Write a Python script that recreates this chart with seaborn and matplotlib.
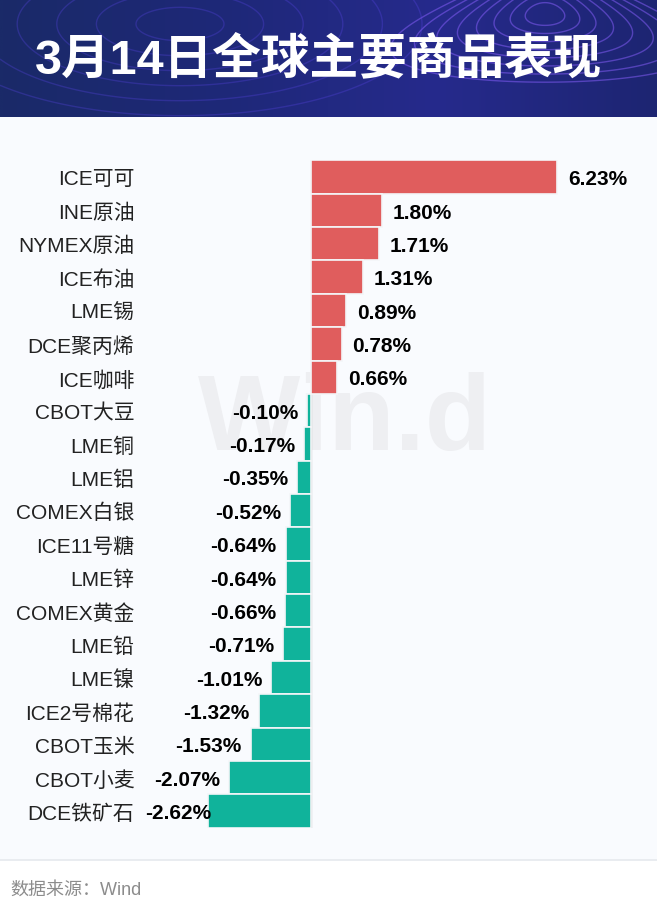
import numpy as np
import pandas as pd
import seaborn as sns
import matplotlib.pyplot as plt
from matplotlib.colors import LinearSegmentedColormap
from matplotlib.patches import Rectangle

# 数据
commodities = ['ICE可可', 'INE原油', 'NYMEX原油', 'ICE布油', 'LME锡', 'DCE聚丙烯', 'ICE咖啡',
               'CBOT大豆', 'LME铜', 'LME铝', 'COMEX白银', 'ICE11号糖', 'LME锌', 'COMEX黄金',
               'LME铅', 'LME镍', 'ICE2号棉花', 'CBOT玉米', 'CBOT小麦', 'DCE铁矿石']
changes = [6.23, 1.80, 1.71, 1.31, 0.89, 0.78, 0.66,
           -0.10, -0.17, -0.35, -0.52, -0.64, -0.64, -0.66,
           -0.71, -1.01, -1.32, -1.53, -2.07, -2.62]
title = '3月14日全球主要商品表现'
source = '数据来源：Wind'

df = pd.DataFrame({'name': commodities, 'value': changes})
df['sign'] = np.where(df['value'] >= 0, 'up', 'down')

sns.set_theme(style='white')
plt.rcParams['font.family'] = ['Liberation Sans', 'Noto Sans CJK SC', 'DejaVu Sans']

W, H = 657, 912
fig = plt.figure(figsize=(W / 100, H / 100), dpi=100)
fig.patch.set_facecolor('white')

def fy(py):
    return 1 - py / H

# 背景层: 面板 + 页脚
bg = fig.add_axes([0, 0, 1, 1], zorder=-10)
bg.set_xlim(0, W)
bg.set_ylim(H, 0)
bg.axis('off')
bg.add_patch(Rectangle((0, 119), W, 743, color='#e9ecf0', lw=0))
bg.add_patch(Rectangle((0, 118), W, 742, color='#f9fbfe', lw=0))
bg.text(10, 890, source, fontsize=13, color='#8c8c8c', va='center', ha='left')

# 头部
hd = fig.add_axes([0, fy(118), 1, 118 / H])
grad = np.tile(np.linspace(0, 1, 300), (60, 1))
cmap = LinearSegmentedColormap.from_list('hdr', ['#1a2a68', '#1e2878', '#262a8c', '#1d2572'])
hd.imshow(grad, cmap=cmap, extent=[0, W, 118, 0], aspect='auto')
gx, gy = np.meshgrid(np.linspace(0, W, 500), np.linspace(0, 118, 150))
# 装饰性等高线
peak = np.sqrt(((gx - 545) / (0.6 + 0.012 * gy)) ** 2 + (2.2 * (gy - 15)) ** 2)
hills = np.sqrt(((gx - 180) / 2.2) ** 2 + ((gy - 25) * 1.2) ** 2)
hd.contour(gx, gy, peak, levels=np.linspace(25, 150, 8), colors='#8a60ff', linewidths=1.0, alpha=0.5)
hd.contour(gx, gy, hills, levels=np.linspace(20, 110, 6), colors='#5a45e8', linewidths=1.0, alpha=0.3)
hd.set_xlim(0, W)
hd.set_ylim(118, 0)
hd.axis('off')
hd.text(W / 2 - 10, 60, title, fontsize=35, fontweight='bold', color='white',
        ha='center', va='center', family=['Liberation Sans', 'Noto Sans CJK SC'])

# 主图
zero_px, scale = 311, 39.5
left_px, right_px = 140, 640
top_px, bot_px = 161.3, 828.7
ax = fig.add_axes([left_px / W, fy(bot_px), (right_px - left_px) / W, (bot_px - top_px) / H])
ax.set_facecolor('none')
ax.text(0.41, 0.61, 'Win.d', transform=ax.transAxes, fontsize=78, fontweight='bold',
        color='#eeeff2', ha='center', va='center', zorder=0)

sns.barplot(data=df, x='value', y='name', hue='sign', order=commodities,
            palette={'up': '#e05d5d', 'down': '#10b39b'}, saturation=1, dodge=False, width=1.0,
            edgecolor='#f4f6f8', linewidth=1.2, legend=False, ax=ax, zorder=2)

ax.set_xlim((left_px - zero_px) / scale, (right_px - zero_px) / scale)
ax.set_ylim(len(commodities) - 0.5, -0.5)
ax.axvline(0, color='#cccccc', lw=1, zorder=1)
for s in ax.spines.values():
    s.set_visible(False)
ax.set_xticks([])
ax.set_xlabel('')
ax.set_ylabel('')
ax.tick_params(axis='y', length=0, pad=4, labelsize=15, labelcolor='#222222')
for lbl in ax.get_yticklabels():
    lbl.set_verticalalignment('center_baseline')

# 数值标签: 负值标签不得压住左侧名称
off = 9 / scale
min_left = (145 - zero_px) / scale
renderer = fig.canvas.get_renderer()
for i, v in enumerate(changes):
    if v >= 0:
        ax.text(v + off * 1.2, i + 0.05, f'{v:.2f}%', ha='left', va='center', fontsize=15,
                fontweight='bold', color='black', zorder=3)
    else:
        t = ax.text(v - off, i + 0.05, f'{v:.2f}%', ha='right', va='center', fontsize=15,
                    fontweight='bold', color='black', zorder=3)
        w = t.get_window_extent(renderer).width / scale
        if v - off - w < min_left:
            t.set_x(min_left)
            t.set_ha('left')

fig.savefig('out.png', dpi=100)
